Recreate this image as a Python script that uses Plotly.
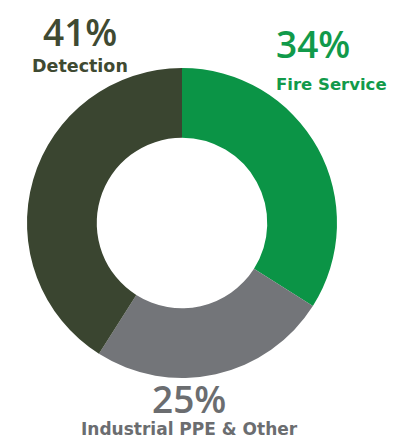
import plotly.graph_objects as go

categories = ["Fire Service", "Industrial PPE & Other", "Detection"]
values = [34, 25, 41]
colors = ["#0b9446", "#737579", "#3a4530"]
text_colors = ["#119a4a", "#6b6d70", "#3f4a32"]

W, H = 394, 439

fig = go.Figure(go.Pie(
    labels=categories,
    values=values,
    sort=False,
    direction="clockwise",
    rotation=0,
    hole=0.55,
    marker=dict(colors=colors, line=dict(width=0)),
    textinfo="none",
    hoverinfo="none",
    showlegend=False,
    domain=dict(x=[27 / W, 337 / W], y=[61 / H, 371 / H]),
))

# label positions in pixels (x, y of pct, y of name, anchor, name size)
label_pos = {
    "Fire Service": (274, 43, 84, "left", 16.5),
    "Industrial PPE & Other": (189, 398, 429, "center", 17),
    "Detection": (80, 31, 66, "center", 17.5),
}

pct_font = "Open Sans, Lato, sans-serif"
name_font = "DejaVu Sans, Verdana, sans-serif"
for cat, val, tc in zip(categories, values, text_colors):
    x, ypct, yname, anchor, nsize = label_pos[cat]
    fig.add_annotation(
        x=x / W, y=1 - ypct / H, xref="paper", yref="paper",
        text=f"{val}%", showarrow=False, xanchor=anchor, yanchor="middle",
        font=dict(family=pct_font, size=37, color=tc, weight=600),
    )
    fig.add_annotation(
        x=x / W, y=1 - yname / H, xref="paper", yref="paper",
        text=cat, showarrow=False, xanchor=anchor, yanchor="middle",
        font=dict(family=name_font, size=nsize, color=tc, weight=700),
    )

fig.update_layout(
    width=W, height=H,
    margin=dict(l=0, r=0, t=0, b=0),
    paper_bgcolor="white",
    plot_bgcolor="white",
)

fig.write_html("out.html")
